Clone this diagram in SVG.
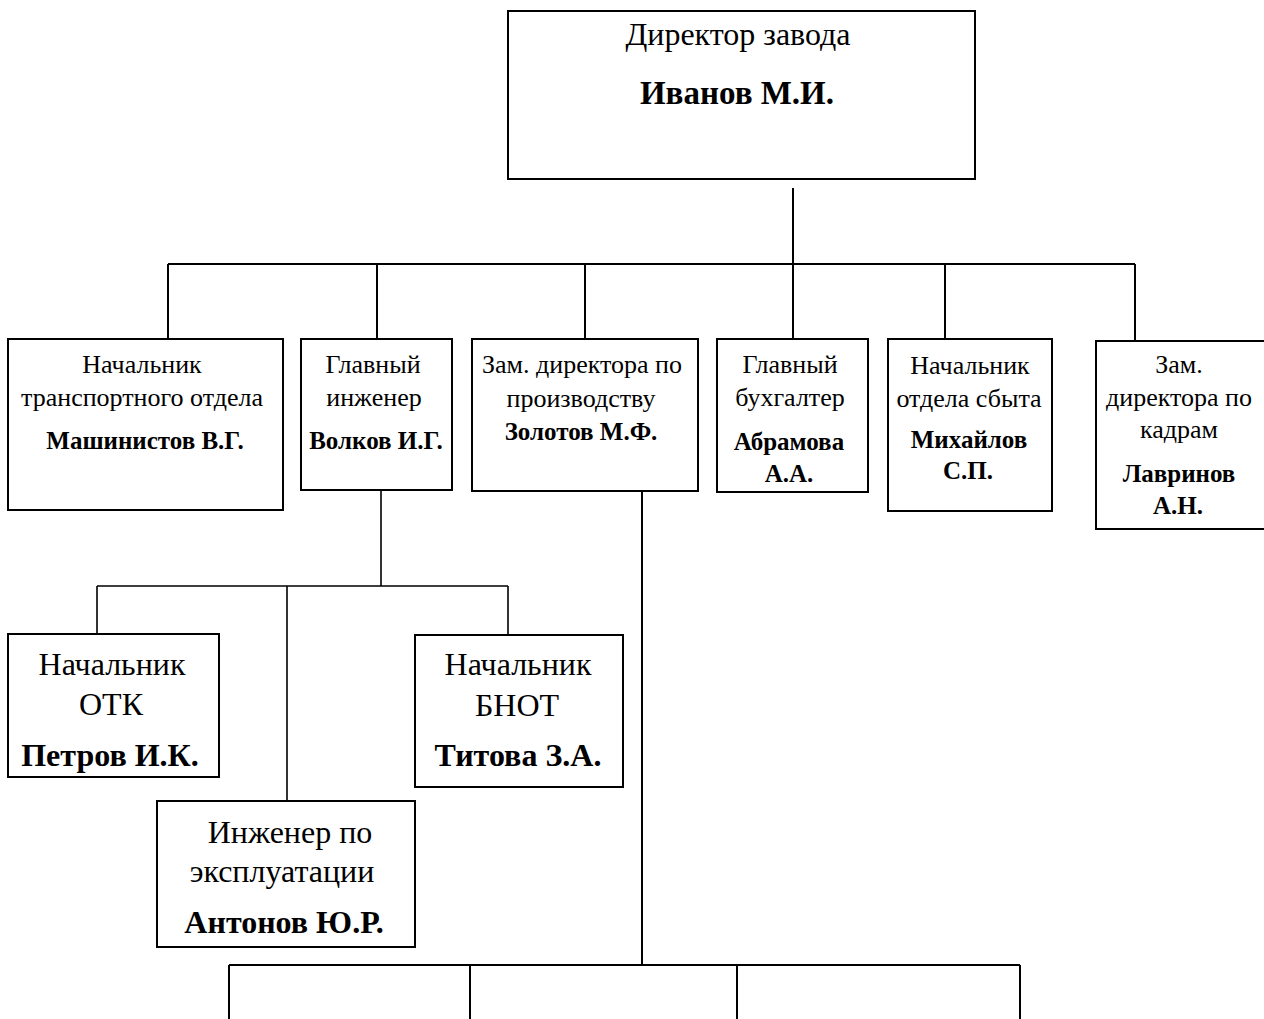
<svg xmlns="http://www.w3.org/2000/svg" width="1264" height="1019" viewBox="0 0 1264 1019">
<style>
.box{fill:#fff;stroke:#000;stroke-width:2}
.ln{fill:none;stroke:#000;stroke-width:2}
.ln2{fill:none;stroke:#000;stroke-width:1.6}
text{font-family:"Liberation Serif","Times New Roman",serif;fill:#000;text-anchor:middle}
.r1{font-size:26px}
.b1{font-size:25px;font-weight:bold}
.r2{font-size:32px}
.b2{font-size:32px;font-weight:bold}
.r0{font-size:32px}
.b0{font-size:33px;font-weight:bold}
</style>
<rect width="1264" height="1019" fill="#fff"/>
<g id="connectors">
<path class="ln" d="M793 188V264M168 264H1135M168 264V339M377 264V339M585 264V339M793 264V339M945 264V339M1135 264V341"/>
<path class="ln2" d="M381 490V586M97 586H508M97 586V634M508 586V635M287 586V801"/>
<path class="ln" d="M642 491V965M229 965H1020M229 965V1019M470 965V1019M737 965V1019M1020 965V1019"/>
</g>
<g id="director">
<rect class="box" x="508" y="11" width="467" height="168"/>
<text class="r0" x="738" y="45">Директор завода</text>
<text class="b0" x="737" y="104">Иванов М.И.</text>
</g>
<g id="transport">
<rect class="box" x="8" y="339" width="275" height="171"/>
<text class="r1" x="142" y="373">Начальник</text>
<text class="r1" x="142" y="406">транспортного отдела</text>
<text class="b1" x="145" y="449">Машинистов В.Г.</text>
</g>
<g id="chief-engineer">
<rect class="box" x="301" y="339" width="151" height="151"/>
<text class="r1" x="373" y="373">Главный</text>
<text class="r1" x="374" y="406">инженер</text>
<text class="b1" x="376" y="449">Волков И.Г.</text>
</g>
<g id="deputy-production">
<rect class="box" x="472" y="339" width="226" height="152"/>
<text class="r1" x="582" y="373">Зам. директора по</text>
<text class="r1" x="581" y="407">производству</text>
<text class="b1" x="581" y="440">Золотов М.Ф.</text>
</g>
<g id="accountant">
<rect class="box" x="717" y="339" width="151" height="153"/>
<text class="r1" x="790" y="373">Главный</text>
<text class="r1" x="790" y="406">бухгалтер</text>
<text class="b1" x="789" y="450">Абрамова</text>
<text class="b1" x="789" y="482">А.А.</text>
</g>
<g id="sales">
<rect class="box" x="888" y="339" width="164" height="172"/>
<text class="r1" x="970" y="374">Начальник</text>
<text class="r1" x="969" y="407">отдела сбыта</text>
<text class="b1" x="969" y="448">Михайлов</text>
<text class="b1" x="968" y="479">С.П.</text>
</g>
<g id="deputy-hr">
<rect class="box" x="1096" y="341" width="170" height="188"/>
<text class="r1" x="1179" y="373">Зам.</text>
<text class="r1" x="1179" y="406">директора по</text>
<text class="r1" x="1179" y="438">кадрам</text>
<text class="b1" x="1179" y="482">Лавринов</text>
<text class="b1" x="1178" y="514">А.Н.</text>
</g>
<g id="otk">
<rect class="box" x="8" y="634" width="211" height="143"/>
<text class="r2" x="112" y="675">Начальник</text>
<text class="r2" x="111" y="715">ОТК</text>
<text class="b2" x="110" y="766">Петров И.К.</text>
</g>
<g id="bnot">
<rect class="box" x="415" y="635" width="208" height="152"/>
<text class="r2" x="518" y="675">Начальник</text>
<text class="r2" x="517" y="716">БНОТ</text>
<text class="b2" x="518" y="766">Титова З.А.</text>
</g>
<g id="operations-engineer">
<rect class="box" x="157" y="801" width="258" height="146"/>
<text class="r2" x="290" y="843">Инженер по</text>
<text class="r2" x="282" y="882">эксплуатации</text>
<text class="b2" x="284" y="933">Антонов Ю.Р.</text>
</g>
</svg>
